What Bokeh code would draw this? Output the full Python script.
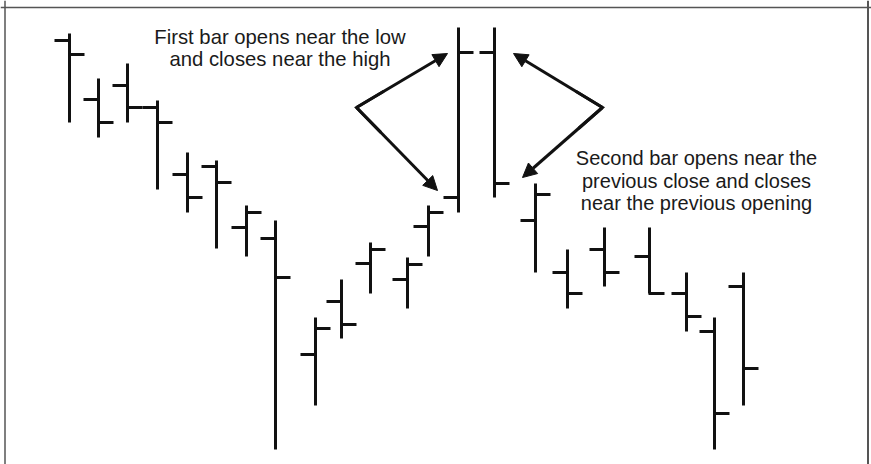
from bokeh.plotting import figure
from bokeh.models import ColumnDataSource, Range1d, Span, Arrow, NormalHead
from bokeh.core.properties import value
from bokeh.embed import file_html
from bokeh.resources import INLINE

# ---- data (price units) ----
day = [69, 98, 127, 157, 187, 216, 246, 275, 315, 341, 370,
       407, 428, 458, 494, 535, 567, 604, 649, 686, 714, 743]
high = [431, 386, 401, 364, 312, 304, 259, 244, 147, 185, 222,
        207, 259, 437, 437, 281, 215, 237, 237, 192, 147, 192]
low = [342, 327, 342, 275, 252, 216, 208, 15, 59, 126, 171,
       156, 208, 252, 267, 192, 156, 178, 171, 133, 15, 59]
open_ = [424, 365, 379, 357, 290, 298, 237, 226, 110, 163, 201,
         185, 238, 267, 412, 244, 192, 215, 208, 171, 133, 178]
close = [410, 342, 357, 342, 267, 282, 252, 187, 136, 140, 215,
         200, 252, 412, 281, 270, 171, 192, 171, 148, 51, 96]

note1 = ["First bar opens near the low", "and closes near the high"]
note2 = ["Second bar opens near the", "previous close and closes", "near the previous opening"]

TICK = 15
INK = "#111111"

src = ColumnDataSource(dict(
    x=day, high=high, low=low, open=open_, close=close,
    xl=[d - TICK for d in day], xl1=[d + 1 for d in day],
    xr=[d + TICK for d in day], xr0=[d - 1 for d in day],
))

p = figure(width=871, height=464, output_backend="svg", toolbar_location=None,
           x_range=Range1d(0, 871), y_range=Range1d(0, 464),
           min_border=0, outline_line_color=None, margin=(0, -8, -8, 0))
p.axis.visible = False
p.grid.visible = False
p.background_fill_color = "white"
p.border_fill_color = "white"

# frame (left, top, right)
p.add_layout(Span(location=4.5, dimension="height", line_color="#555555", line_width=1.5))
p.add_layout(Span(location=867.5, dimension="height", line_color="#555555", line_width=2))
p.add_layout(Span(location=457, dimension="width", line_color="#555555", line_width=1.5))

# OHLC bars
p.segment(x0="x", y0="low", x1="x", y1="high", source=src, line_color=INK, line_width=3, line_cap="butt")
p.segment(x0="xl", y0="open", x1="xl1", y1="open", source=src, line_color=INK, line_width=3, line_cap="butt")
p.segment(x0="xr0", y0="close", x1="xr", y1="close", source=src, line_color=INK, line_width=3, line_cap="butt")

# arrows
def vee(vx, vy, t1, t2):
    for tx, ty in (t1, t2):
        p.add_layout(Arrow(end=NormalHead(size=14, fill_color=INK, line_color=INK, line_width=1),
                           x_start=vx, y_start=vy, x_end=tx, y_end=ty,
                           line_color=INK, line_width=3))
    f = 0.3
    xs = [vx + (t1[0] - vx) * f, vx, vx + (t2[0] - vx) * f]
    ys = [vy + (t1[1] - vy) * f, vy, vy + (t2[1] - vy) * f]
    p.line(xs, ys, line_color=INK, line_width=3, line_join="miter")

vee(356, 357, (447, 411), (437, 274))
vee(602, 357, (513, 411), (522, 287))

# annotations text
p.text(x=[279.5] * 2, y=[428, 406], text=note1, text_font=value("Liberation Sans"),
       text_font_size="20.3px", text_align="center", text_baseline="alphabetic", text_color="#1a1a1a")
p.text(x=[696] * 3, y=[306.5, 284, 261.5], text=note2, text_font=value("Liberation Sans"),
       text_font_size="20px", text_align="center", text_baseline="alphabetic", text_color="#1a1a1a")

open("out.html", "w").write(file_html(p, INLINE))
